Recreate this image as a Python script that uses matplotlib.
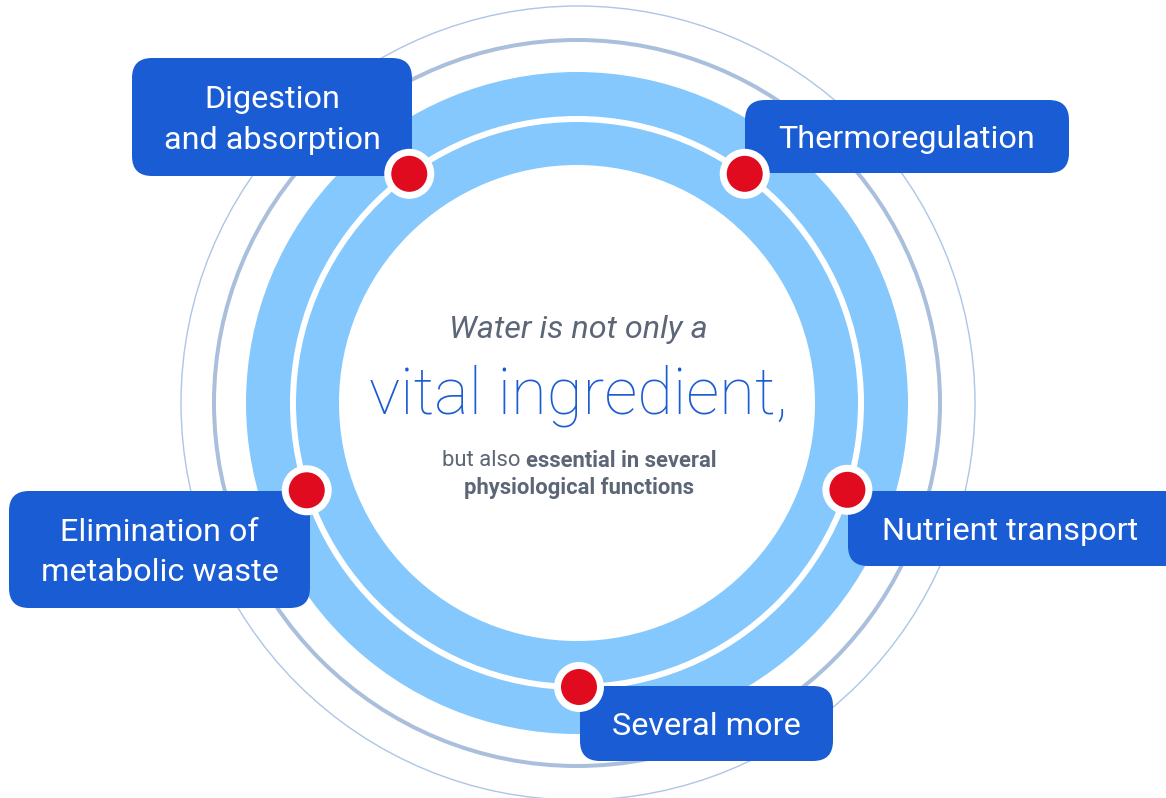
import matplotlib
matplotlib.use("Agg")
import matplotlib.pyplot as plt
from matplotlib.patches import Circle, FancyBboxPatch
import numpy as np

# ---- data ----
labels = ["Digestion\nand absorption", "Thermoregulation", "Elimination of\nmetabolic waste",
          "Nutrient transport", "Several more"]
dot_angles = [126.2, 53.8, 197.9, -17.8, -89.6]          # degrees, position of each marker on the ring
box_x = [132, 745, 9, 848, 580]                          # box left edges
box_y = [58, 100, 491, 491, 686]                         # box top edges
box_w = [280, 324, 301, 340, 253]
box_h = [118, 73, 117, 75, 75]
headline_top = "Water is not only a"
headline_main = "vital ingredient,"
headline_sub1 = ("but also ", "essential in several")
headline_sub2 = "physiological functions"

# ---- style ----
W, H = 1166, 798
cx, cy = 577, 403
LIGHT = "#85C8FD"
BOX = "#1A5CD4"
RED = "#E00B1F"
RING = "#A9BFDB"
GRAY = "#5C6677"
FONT = ["Roboto", "DejaVu Sans"]

fig = plt.figure(figsize=(W / 100, H / 100), dpi=100)
ax = fig.add_axes([0, 0, 1, 1])
ax.set_xlim(0, W)
ax.set_ylim(H, 0)
ax.set_aspect("equal")
ax.axis("off")

px = 0.72  # points per pixel

# outer decorative rings
ax.add_patch(Circle((cx + 1, cy), 397, fill=False, ec="#AEC6E6", lw=1.4 * px, zorder=1))
ax.add_patch(Circle((cx, cy), 363, fill=False, ec=RING, lw=4 * px, zorder=1))
# light blue band
ax.add_patch(Circle((cx, cy), 331, fc=LIGHT, ec="none", zorder=2))
# white ring line
ax.add_patch(Circle((cx, cy), 284, fill=False, ec="white", lw=6 * px, zorder=3))
# inner white disk
ax.add_patch(Circle((cx, cy), 238, fc="white", ec="none", zorder=3))

# boxes
for lab, x, y, w, h in zip(labels, box_x, box_y, box_w, box_h):
    ax.add_patch(FancyBboxPatch((x, y), w, h, boxstyle="round,pad=0,rounding_size=20",
                                fc=BOX, ec="none", zorder=4, clip_on=False))
    tx = x + w / 2 if x + w <= W else x + (W - x) / 2 + 3
    ax.text(tx, y + h / 2 + 3, lab, color="white",
            fontsize=23.3, family=FONT, ha="center", va="center", linespacing=1.52, zorder=5)

# dots
for a in dot_angles:
    t = np.deg2rad(a)
    dx, dy = cx + 284 * np.cos(t), cy - 284 * np.sin(t)
    ax.add_patch(Circle((dx, dy), 25, fc="white", ec="none", zorder=6))
    ax.add_patch(Circle((dx, dy), 18, fc=RED, ec="none", zorder=7))

# centre text
ax.text(578, 329, headline_top, color=GRAY, fontsize=23.3, style="italic", family=FONT,
        ha="center", va="center", zorder=8)
ax.text(578, 396, headline_main, color=BOX, fontsize=47, fontweight="light", family=FONT,
        ha="center", va="center", zorder=8)
t1 = ax.text(0, 461, headline_sub1[0], color=GRAY, fontsize=15.8, family=FONT,
             ha="left", va="center", zorder=8)
t2 = ax.text(0, 461, headline_sub1[1], color=GRAY, fontsize=15.8, family=FONT, fontweight="bold",
             ha="left", va="center", zorder=8)
fig.canvas.draw()
r = fig.canvas.get_renderer()
inv = ax.transData.inverted()
def width_data(t):
    bb = t.get_window_extent(r)
    p0 = inv.transform((bb.x0, bb.y0)); p1 = inv.transform((bb.x1, bb.y0))
    return p1[0] - p0[0]
w1, w2 = width_data(t1), width_data(t2)
start = 579 - (w1 + w2) / 2
t1.set_x(start)
t2.set_x(start + w1)
ax.text(579, 488, headline_sub2, color=GRAY, fontsize=15.8, family=FONT, fontweight="bold",
        ha="center", va="center", zorder=8)

fig.savefig("out.png", dpi=100)
